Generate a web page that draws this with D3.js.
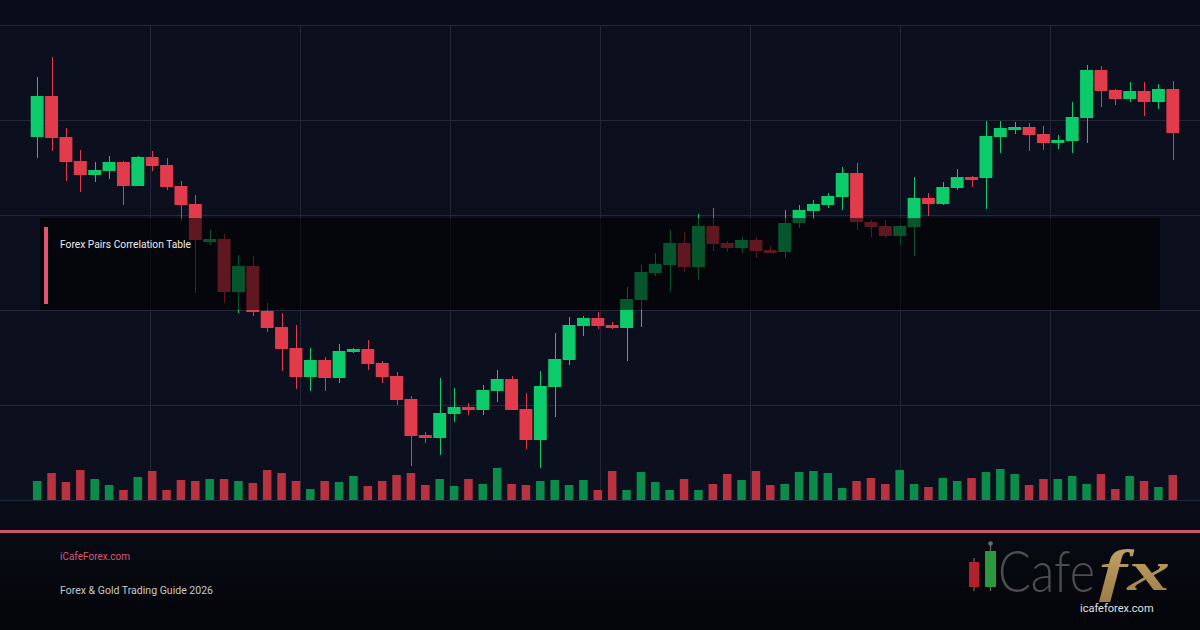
<!DOCTYPE html>
<html><head><meta charset="utf-8">
<script src="https://cdn.jsdelivr.net/npm/d3@7"></script>
<style>html,body{margin:0;padding:0;background:#0b0f1d;}svg{display:block;}</style>
</head><body><svg id="c" width="1200" height="630"></svg>
<script>
// ---- data ----
const opens  = [1.0888,1.0929,1.0888,1.0864,1.0850,1.0854,1.0863,1.0839,1.0868,1.0860,1.0839,1.0821,1.0783,1.0786,1.0733,1.0759,1.0714,1.0698,1.0677,1.0648,
                1.0665,1.0647,1.0673,1.0676,1.0662,1.0649,1.0626,1.0590,1.0587,1.0611,1.0618,1.0615,1.0634,1.0646,1.0616,1.0585,1.0638,1.0665,1.0699,1.0707,
                1.0700,1.0697,1.0725,1.0752,1.0760,1.0782,1.0758,1.0799,1.0782,1.0777,1.0785,1.0775,1.0773,1.0802,1.0814,1.0820,1.0828,1.0852,1.0803,1.0799,
                1.0789,1.0798,1.0827,1.0821,1.0837,1.0848,1.0847,1.0888,1.0895,1.0898,1.0891,1.0882,1.0884,1.0907,1.0955,1.0935,1.0926,1.0934,1.0923,1.0936];
const highs  = [1.0948,1.0968,1.0897,1.0875,1.0863,1.0869,1.0864,1.0869,1.0874,1.0867,1.0844,1.0830,1.0795,1.0791,1.0770,1.0769,1.0722,1.0712,1.0700,1.0677,
                1.0668,1.0681,1.0677,1.0685,1.0664,1.0653,1.0629,1.0593,1.0647,1.0637,1.0622,1.0640,1.0655,1.0649,1.0632,1.0654,1.0692,1.0708,1.0709,1.0713,
                1.0703,1.0738,1.0760,1.0772,1.0795,1.0793,1.0811,1.0817,1.0784,1.0788,1.0788,1.0779,1.0815,1.0820,1.0825,1.0832,1.0858,1.0862,1.0805,1.0805,
                1.0800,1.0848,1.0832,1.0843,1.0856,1.0849,1.0904,1.0904,1.0903,1.0902,1.0899,1.0890,1.0923,1.0960,1.0959,1.0936,1.0943,1.0943,1.0941,1.0944];
const lows   = [1.0867,1.0874,1.0844,1.0833,1.0843,1.0846,1.0820,1.0839,1.0854,1.0835,1.0804,1.0732,1.0780,1.0722,1.0712,1.0709,1.0693,1.0654,1.0636,1.0634,
                1.0634,1.0642,1.0672,1.0655,1.0642,1.0620,1.0559,1.0582,1.0570,1.0603,1.0610,1.0610,1.0623,1.0615,1.0576,1.0557,1.0608,1.0660,1.0689,1.0696,
                1.0696,1.0664,1.0698,1.0749,1.0733,1.0753,1.0746,1.0774,1.0773,1.0772,1.0767,1.0772,1.0767,1.0797,1.0806,1.0817,1.0815,1.0795,1.0788,1.0787,
                1.0780,1.0769,1.0809,1.0820,1.0835,1.0838,1.0816,1.0872,1.0891,1.0874,1.0875,1.0876,1.0872,1.0882,1.0918,1.0920,1.0923,1.0909,1.0916,1.0865];
const closes = [1.0929,1.0887,1.0863,1.0850,1.0855,1.0863,1.0839,1.0868,1.0859,1.0838,1.0820,1.0785,1.0786,1.0733,1.0759,1.0713,1.0697,1.0676,1.0648,1.0665,
                1.0647,1.0674,1.0676,1.0661,1.0648,1.0625,1.0589,1.0587,1.0612,1.0618,1.0615,1.0635,1.0646,1.0615,1.0585,1.0639,1.0666,1.0700,1.0707,1.0699,
                1.0697,1.0726,1.0753,1.0761,1.0782,1.0758,1.0799,1.0781,1.0777,1.0785,1.0774,1.0772,1.0802,1.0815,1.0821,1.0829,1.0852,1.0803,1.0798,1.0789,
                1.0799,1.0827,1.0821,1.0838,1.0848,1.0845,1.0889,1.0897,1.0898,1.0890,1.0882,1.0885,1.0908,1.0955,1.0934,1.0926,1.0934,1.0923,1.0936,1.0892];
const volumes = [1900,2700,1800,3000,2100,1500,1000,2300,2900,1000,2000,1900,2100,2100,1900,1700,3000,2700,1900,1100,
                 1900,1800,2400,1400,1900,2500,2700,1500,2100,1400,2100,1600,3200,1600,1500,1900,2000,1500,2000,1000,
                 2900,1000,2800,1800,1000,2100,1000,1600,2600,2000,2900,1500,1600,2800,2900,2700,1200,1900,2200,1600,
                 3000,1600,1300,2200,1900,2200,2800,3100,2600,1500,2100,2100,2400,1600,2600,1100,2400,1900,1300,2500];
const titleText = "Forex Pairs Correlation Table";
const siteText = "iCafeForex.com";
const subtitleText = "Forex & Gold Trading Guide 2026";
const logoUrlText = "icafeforex.com";

// ---- setup ----
const W = 1200, H = 630;
const svg = d3.select("#c");
const idx = d3.range(opens.length);
const x = d3.scaleBand().domain(idx).range([30, 1180]).paddingInner(0.1).paddingOuter(0.05);
const y = d3.scaleLinear().domain([1.0525, 1.1000]).range([500, 25]);
const yVol = d3.scaleLinear().domain([0, 4000]).range([500, 460]);
const gx = d3.scaleLinear().domain([0, 8]).range([0, 1200]);
const gy = d3.scaleLinear().domain([0, 5]).range([500, 25]);

const UP = "#0ccb6b", DOWN = "#e23b4b", VUP = "#0b8c4b", VDOWN = "#b8323f";

const defs = svg.append("defs");
const bg = defs.append("linearGradient").attr("id","bgb").attr("x1",0).attr("y1",0).attr("x2",0).attr("y2",1);
bg.append("stop").attr("offset","0%").attr("stop-color","#0a0d18");
bg.append("stop").attr("offset","100%").attr("stop-color","#040509");
const logoG = defs.append("linearGradient").attr("id","gold").attr("x1",0).attr("y1",0).attr("x2",0).attr("y2",1);
logoG.append("stop").attr("offset","0%").attr("stop-color","#c9a96a");
logoG.append("stop").attr("offset","100%").attr("stop-color","#9c7c45");

// backgrounds
svg.append("rect").attr("width",W).attr("height",H).attr("fill","#0b0f1e");
svg.append("rect").attr("width",W).attr("height",25).attr("fill","#0a0d19");
svg.append("rect").attr("y",500).attr("width",W).attr("height",130).attr("fill","url(#bgb)");

// grid
svg.append("g").selectAll("line").data(d3.range(0,6)).join("line")
  .attr("x1",0).attr("x2",W).attr("y1",d=>gy(d)+0.5).attr("y2",d=>gy(d)+0.5)
  .attr("stroke","#232839").attr("stroke-width",1);
svg.append("g").selectAll("line").data(d3.range(1,8)).join("line")
  .attr("x1",d=>gx(d)+0.5).attr("x2",d=>gx(d)+0.5).attr("y1",gy(5)).attr("y2",gy(0))
  .attr("stroke","#232839").attr("stroke-width",1);

// volume
svg.append("g").selectAll("rect").data(idx).join("rect")
  .attr("x", i => x(i) + x.bandwidth()*0.17)
  .attr("width", x.bandwidth()*0.66)
  .attr("y", i => yVol(volumes[i]))
  .attr("height", i => yVol(0) - yVol(volumes[i]))
  .attr("fill", i => closes[i] >= opens[i] ? VUP : VDOWN);

// candles
const cg = svg.append("g");
cg.selectAll("line").data(idx).join("line")
  .attr("x1", i => Math.round(x(i) + x.bandwidth()/2) + 0.5)
  .attr("x2", i => Math.round(x(i) + x.bandwidth()/2) + 0.5)
  .attr("y1", i => y(highs[i])).attr("y2", i => y(lows[i]))
  .attr("stroke", i => closes[i] >= opens[i] ? UP : DOWN).attr("stroke-width",1);
cg.selectAll("rect").data(idx).join("rect")
  .attr("x", i => x(i))
  .attr("width", x.bandwidth())
  .attr("y", i => y(Math.max(opens[i], closes[i])))
  .attr("height", i => Math.max(2, Math.abs(y(opens[i]) - y(closes[i]))))
  .attr("fill", i => closes[i] >= opens[i] ? UP : DOWN);

// overlay title box
svg.append("rect").attr("x",40).attr("y",218).attr("width",1120).attr("height",92)
  .attr("fill","#000").attr("opacity",0.58);
svg.append("rect").attr("x",44).attr("y",227).attr("width",4).attr("height",77).attr("fill","#e0566e");
svg.append("text").attr("x",60).attr("y",248).text(titleText)
  .attr("font-family","Roboto, 'Noto Sans', sans-serif").attr("font-size",11.5).attr("fill","#ececec")
  .attr("textLength",131).attr("lengthAdjust","spacingAndGlyphs");

// pink divider
svg.append("rect").attr("x",0).attr("y",530).attr("width",W).attr("height",3).attr("fill","#c9566c");

// footer
svg.append("text").attr("x",60).attr("y",560).text(siteText)
  .attr("font-family","Roboto, 'Noto Sans', sans-serif").attr("font-size",11).attr("fill","#d9587a")
  .attr("textLength",70).attr("lengthAdjust","spacingAndGlyphs");
svg.append("text").attr("x",60).attr("y",594).text(subtitleText)
  .attr("font-family","Roboto, 'Noto Sans', sans-serif").attr("font-size",11).attr("fill","#c9c9c9")
  .attr("textLength",153).attr("lengthAdjust","spacingAndGlyphs");

// logo
const lg = svg.append("g");
lg.append("line").attr("x1",974).attr("x2",974).attr("y1",558).attr("y2",591).attr("stroke","#6a6a6a").attr("stroke-width",1.2);
lg.append("rect").attr("x",969).attr("y",562).attr("width",10).attr("height",25).attr("fill","#b3212d");
lg.append("line").attr("x1",990.5).attr("x2",990.5).attr("y1",544).attr("y2",591).attr("stroke","#6a6a6a").attr("stroke-width",1.2);
lg.append("circle").attr("cx",990.5).attr("cy",543.5).attr("r",2.3).attr("fill","#6a6a6a");
lg.append("rect").attr("x",985).attr("y",551).attr("width",11).attr("height",36).attr("fill","#2b9a3f");
const logoText = lg.append("text").attr("x",998).attr("y",592);
logoText.append("tspan").text("Cafe")
  .attr("font-family","Lato, 'Open Sans', sans-serif").attr("font-weight",300)
  .attr("font-size",58).attr("fill","#4d4d4d").attr("textLength",97).attr("lengthAdjust","spacingAndGlyphs");
logoText.append("tspan").text("fx").attr("x",1099).attr("dy",-2)
  .attr("font-family","'Liberation Serif', 'DejaVu Serif', serif").attr("font-style","italic").attr("font-weight","bold")
  .attr("font-size",58).attr("fill","url(#gold)").attr("textLength",71).attr("lengthAdjust","spacingAndGlyphs");
lg.append("text").attr("x",1080).attr("y",612).text(logoUrlText)
  .attr("font-family","Roboto, 'Noto Sans', sans-serif").attr("font-size",11).attr("fill","#e2e2e2");
</script></body></html>
